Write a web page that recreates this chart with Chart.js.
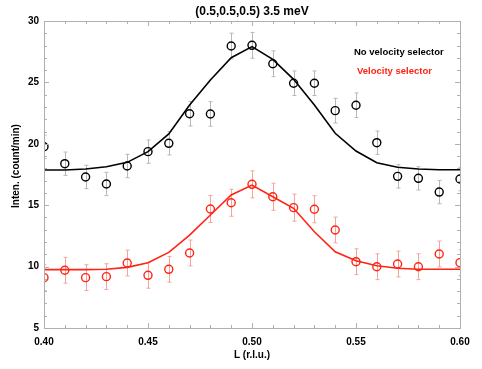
<!DOCTYPE html>
<html>
<head>
<meta charset="utf-8">
<script src="https://cdn.jsdelivr.net/npm/chart.js@4/dist/chart.umd.min.js"></script>
<style>
  html, body { margin: 0; padding: 0; background: #fff; }
  #wrap { width: 482px; height: 369px; }
</style>
</head>
<body>
<div id="wrap"><canvas id="myChart" width="482" height="369"></canvas></div>
<script>
// L values (r.l.u.)
const L = [0.40, 0.41, 0.42, 0.43, 0.44, 0.45, 0.46, 0.47, 0.48, 0.49, 0.50,
           0.51, 0.52, 0.53, 0.54, 0.55, 0.56, 0.57, 0.58, 0.59, 0.60];

// no velocity selector (black)
const noSel = [19.76, 18.38, 17.30, 16.73, 18.19, 19.36, 20.04, 22.45, 22.43, 27.96, 28.02,
               26.52, 24.93, 24.93, 22.70, 23.14, 20.09, 17.35, 17.19, 16.07, 17.13];
const noSelErr = [0.95, 0.95, 0.95, 0.95, 0.95, 0.95, 0.95, 1.0, 1.0, 1.05, 1.05,
                  1.05, 1.0, 1.0, 1.0, 1.0, 0.95, 0.95, 0.95, 0.95, 0.95];
const noSelFit = [17.87, 17.87, 17.95, 18.13, 18.49, 19.36, 20.80, 23.16, 25.20, 27.01, 27.91,
                  26.88, 25.25, 23.16, 20.86, 19.41, 18.46, 18.09, 17.95, 17.89, 17.89];

// velocity selector (red)
const withSel = [9.10, 9.70, 9.10, 9.18, 10.29, 9.29, 9.78, 11.11, 14.69, 15.20, 16.70,
                 15.69, 14.80, 14.67, 12.98, 10.40, 9.99, 10.21, 9.99, 11.03, 10.32];
const withSelErr = [1.05, 1.05, 1.05, 1.05, 1.05, 1.05, 1.05, 1.05, 1.1, 1.1, 1.1,
                    1.1, 1.1, 1.1, 1.05, 1.05, 1.05, 1.05, 1.05, 1.05, 1.05];
const withSelFit = [9.75, 9.75, 9.75, 9.78, 9.94, 10.32, 11.16, 12.57, 14.20, 15.83, 16.64,
                    15.69, 14.75, 12.84, 11.21, 10.48, 10.07, 9.86, 9.78, 9.78, 9.78];

const xTicks = [0.40, 0.45, 0.50, 0.55, 0.60];
const yTicks = [5, 10, 15, 20, 25, 30];

const RED = 'rgb(255,35,20)';
const FONT = "'Liberation Sans', Arial, Helvetica, sans-serif";

function pts(xs, ys) {
  return xs.map((v, i) => ({x: v, y: ys[i]}));
}

// error bars, ticks, frame and free text
const decor = {
  id: 'decor',
  beforeDatasetsDraw(chart) {
    const {ctx, chartArea: a, scales: {x, y}} = chart;
    ctx.save();
    ctx.beginPath();
    ctx.rect(a.left, a.top, a.right - a.left, a.bottom - a.top);
    ctx.clip();
    function bars(vals, errs, col) {
      ctx.strokeStyle = col;
      ctx.lineWidth = 1;
      for (let i = 0; i < L.length; i++) {
        const px = Math.round(x.getPixelForValue(L[i])) + 0.5;
        const top = y.getPixelForValue(vals[i] + errs[i]);
        const bot = y.getPixelForValue(vals[i] - errs[i]);
        ctx.beginPath();
        ctx.moveTo(px, top); ctx.lineTo(px, bot);
        ctx.moveTo(px - 2, top); ctx.lineTo(px + 2, top);
        ctx.moveTo(px - 2, bot); ctx.lineTo(px + 2, bot);
        ctx.stroke();
      }
    }
    bars(noSel, noSelErr, '#b8b8b8');
    bars(withSel, withSelErr, '#f6a39c');
    ctx.restore();
  },
  afterDatasetsDraw(chart) {
    const {ctx, chartArea: a, scales: {x, y}} = chart;
    ctx.save();
    ctx.strokeStyle = '#b0b0b0';
    ctx.lineWidth = 1;
    ctx.beginPath();
    // x ticks every 0.01, bigger every 0.05
    for (let k = 0; k <= 20; k++) {
      const px = Math.round(x.getPixelForValue(0.40 + k * 0.01)) + 0.5;
      const len = k % 5 === 0 ? 5 : 3;
      ctx.moveTo(px, a.bottom); ctx.lineTo(px, a.bottom - len);
      ctx.moveTo(px, a.top); ctx.lineTo(px, a.top + len);
    }
    // y ticks every 1, bigger every 5
    for (let v = 5; v <= 30; v++) {
      const py = Math.round(y.getPixelForValue(v)) + 0.5;
      const len = v % 5 === 0 ? 5 : 3;
      ctx.moveTo(a.left, py); ctx.lineTo(a.left + len, py);
      ctx.moveTo(a.right, py); ctx.lineTo(a.right - len, py);
    }
    ctx.stroke();
    ctx.strokeRect(Math.round(a.left) + 0.5, Math.round(a.top) + 0.5,
                   Math.round(a.right - a.left), Math.round(a.bottom - a.top));
    ctx.restore();
  },
  afterDraw(chart) {
    const {ctx} = chart;
    ctx.save();
    ctx.textBaseline = 'middle';
    ctx.fillStyle = '#000';
    ctx.font = 'bold 12px ' + FONT;
    ctx.textAlign = 'center';
    ctx.fillText('(0.5,0.5,0.5) 3.5 meV', 252, 12);

    ctx.font = 'bold 9.5px ' + FONT;
    ctx.textAlign = 'left';
    ctx.fillText('No velocity selector', 354, 52);
    ctx.fillStyle = RED;
    ctx.fillText('Velocity selector', 357, 71);

    ctx.fillStyle = '#000';
    ctx.font = 'bold 10px ' + FONT;
    ctx.translate(16.5, 166);
    ctx.rotate(-Math.PI / 2);
    ctx.textAlign = 'center';
    ctx.fillText('Inten. (count/min)', 0, 0);
    ctx.restore();
  }
};

const config = {
  type: 'scatter',
  data: {
    datasets: [
      {
        label: 'No velocity selector fit',
        data: pts(L, noSelFit),
        showLine: true,
        borderColor: '#000',
        borderWidth: 1.6,
        pointRadius: 0,
        clip: 0
      },
      {
        label: 'Velocity selector fit',
        data: pts(L, withSelFit),
        showLine: true,
        borderColor: RED,
        borderWidth: 1.6,
        pointRadius: 0,
        clip: 0
      },
      {
        label: 'No velocity selector',
        data: pts(L, noSel),
        showLine: false,
        pointStyle: 'circle',
        pointRadius: 4,
        borderWidth: 1.4,
        borderColor: '#000',
        backgroundColor: 'rgba(0,0,0,0)',
        clip: 0
      },
      {
        label: 'Velocity selector',
        data: pts(L, withSel),
        showLine: false,
        pointStyle: 'circle',
        pointRadius: 4,
        borderWidth: 1.4,
        borderColor: RED,
        backgroundColor: 'rgba(0,0,0,0)',
        clip: 0
      }
    ]
  },
  options: {
    responsive: false,
    animation: false,
    events: [],
    layout: { padding: { top: 21, right: 22, left: 0, bottom: 0 } },
    plugins: {
      legend: { display: false },
      tooltip: { enabled: false },
      title: { display: false }
    },
    scales: {
      x: {
        type: 'linear',
        min: 0.40,
        max: 0.60,
        afterFit(s) { s.height = 41; },
        afterBuildTicks(s) { s.ticks = xTicks.map(v => ({value: v})); },
        grid: { display: false, drawTicks: false },
        border: { display: false },
        ticks: {
          padding: 8,
          color: '#000',
          font: { family: FONT, size: 10, weight: 'bold' },
          callback: v => Number(v).toFixed(2),
          maxRotation: 0
        },
        title: {
          display: true,
          text: 'L (r.l.u.)',
          color: '#000',
          font: { family: FONT, size: 10, weight: 'bold' },
          padding: { top: 0, bottom: 8 }
        }
      },
      y: {
        type: 'linear',
        min: 5,
        max: 30,
        afterFit(s) { s.width = 44; },
        afterBuildTicks(s) { s.ticks = yTicks.map(v => ({value: v})); },
        grid: { display: false, drawTicks: false },
        border: { display: false },
        ticks: {
          padding: 5,
          color: '#000',
          font: { family: FONT, size: 10, weight: 'bold' }
        }
      }
    }
  },
  plugins: [decor]
};

//Draws chart
var myChart = new Chart(document.getElementById('myChart'), config);
</script>
</body>
</html>
